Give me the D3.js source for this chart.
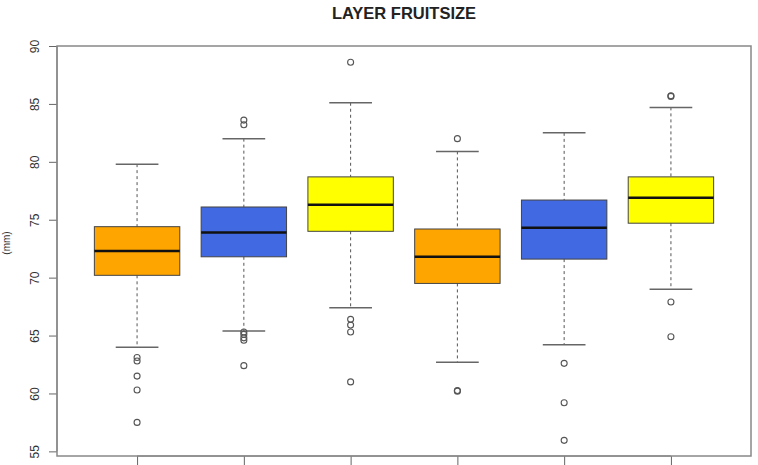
<!DOCTYPE html>
<html lang="en">
<head>
    <meta charset="UTF-8">
    <script src="https://d3js.org/d3.v7.min.js"></script>
    <title>Layer Fruitsize</title>
    <style>
        body { margin: 0; background: #fff; }
        svg { display: block; font-family: "Liberation Sans", Arial, sans-serif; }
    </style>
</head>
<body>
    <div id="chart"></div>
    <script>
        // boxplot stats (mm)
        const groups = [1, 2, 3, 4, 5, 6];
        const whiskerLow  = [64.0, 65.4, 67.4, 62.7, 64.2, 69.0];
        const q1          = [70.2, 71.8, 74.0, 69.5, 71.6, 74.7];
        const median      = [72.3, 73.9, 76.3, 71.8, 74.3, 76.9];
        const q3          = [74.4, 76.1, 78.7, 74.2, 76.7, 78.7];
        const whiskerHigh = [79.8, 82.0, 85.1, 80.9, 82.5, 84.7];
        const outliers = [
            [63.1, 62.8, 61.5, 60.3, 57.5],
            [83.6, 83.2, 65.3, 65.1, 64.8, 64.6, 62.4],
            [88.6, 66.4, 65.9, 65.3, 61.0],
            [82.0, 60.2, 60.25],
            [62.6, 59.2, 55.95],
            [85.65, 85.7, 67.9, 64.9]
        ];
        const yTicks = [55, 60, 65, 70, 75, 80, 85, 90];
        const fills = ['#FFA500', '#4169E1', '#FFFF00', '#FFA500', '#4169E1', '#FFFF00'];

        const w = 758, h = 465;
        const padL = 57, padR = 751, padT = 46, padB = 456;

        const svg = d3.select('#chart').append('svg')
            .attr('width', w)
            .attr('height', h);

        const x = d3.scaleLinear().domain([0.25, 6.75]).range([padL, padR]);
        const y = d3.scaleLinear().domain([54.6, 90]).range([padB, padT]);
        const unit = x(1) - x(0);
        const boxW = 0.8 * unit;
        const capW = 0.4 * unit;

        const data = groups.map((g, i) => ({
            g: g, lo: whiskerLow[i], q1: q1[i], med: median[i], q3: q3[i],
            hi: whiskerHigh[i], out: outliers[i], fill: fills[i]
        }));

        const box = svg.selectAll('g.box')
            .data(data)
            .enter().append('g')
            .attr('class', 'box');

        // dashed whiskers
        box.append('line')
            .attr('x1', d => x(d.g)).attr('x2', d => x(d.g))
            .attr('y1', d => y(d.hi)).attr('y2', d => y(d.q3))
            .attr('stroke', '#555').attr('stroke-dasharray', '3,3');
        box.append('line')
            .attr('x1', d => x(d.g)).attr('x2', d => x(d.g))
            .attr('y1', d => y(d.q1)).attr('y2', d => y(d.lo))
            .attr('stroke', '#555').attr('stroke-dasharray', '3,3');

        // caps
        box.append('line')
            .attr('x1', d => x(d.g) - capW / 2).attr('x2', d => x(d.g) + capW / 2)
            .attr('y1', d => y(d.hi)).attr('y2', d => y(d.hi))
            .attr('stroke', '#666').attr('stroke-width', 1.5);
        box.append('line')
            .attr('x1', d => x(d.g) - capW / 2).attr('x2', d => x(d.g) + capW / 2)
            .attr('y1', d => y(d.lo)).attr('y2', d => y(d.lo))
            .attr('stroke', '#666').attr('stroke-width', 1.5);

        // boxes
        box.append('rect')
            .attr('x', d => x(d.g) - boxW / 2)
            .attr('width', boxW)
            .attr('y', d => y(d.q3))
            .attr('height', d => y(d.q1) - y(d.q3))
            .attr('fill', d => d.fill)
            .attr('stroke', '#444')
            .attr('stroke-width', 1);

        // medians
        box.append('line')
            .attr('x1', d => x(d.g) - boxW / 2).attr('x2', d => x(d.g) + boxW / 2)
            .attr('y1', d => y(d.med)).attr('y2', d => y(d.med))
            .attr('stroke', '#111').attr('stroke-width', 2.5);

        // outliers
        box.selectAll('circle')
            .data(d => d.out.map(v => ({ g: d.g, v: v })))
            .enter().append('circle')
            .attr('cx', d => x(d.g))
            .attr('cy', d => y(d.v))
            .attr('r', 3)
            .attr('fill', 'none')
            .attr('stroke', '#555')
            .attr('stroke-width', 1.1);

        // axes
        const yAxis = d3.axisLeft(y).tickValues(yTicks).tickSize(8).tickPadding(0);
        const gy = svg.append('g')
            .attr('transform', 'translate(' + padL + ',0)')
            .call(yAxis);
        gy.select('.domain').attr('d', 'M0,' + y(55) + 'V' + y(90)).attr('stroke', '#666');
        gy.selectAll('.tick line').attr('stroke', '#666');
        gy.selectAll('.tick text')
            .attr('x', 0).attr('dy', null)
            .attr('text-anchor', 'middle')
            .attr('transform', 'translate(-22,0) rotate(-90)')
            .attr('dominant-baseline', 'central')
            .style('font-size', '12px')
            .attr('fill', '#333');

        const xAxis = d3.axisBottom(x).tickValues(groups).tickSize(10).tickFormat('');
        const gx = svg.append('g')
            .attr('transform', 'translate(0,' + padB + ')')
            .call(xAxis);
        gx.select('.domain').attr('d', 'M' + x(1) + ',0H' + x(6)).attr('stroke', '#666');
        gx.selectAll('.tick line').attr('stroke', '#666');

        // frame
        svg.append('rect')
            .attr('x', padL).attr('y', padT)
            .attr('width', padR - padL).attr('height', padB - padT)
            .attr('fill', 'none')
            .attr('stroke', '#888')
            .attr('stroke-width', 1.5);

        // title and y label
        svg.append('text')
            .text('LAYER FRUITSIZE')
            .attr('x', (padL + padR) / 2)
            .attr('y', 19)
            .attr('text-anchor', 'middle')
            .style('font-size', '16.5px')
            .style('font-weight', 'bold')
            .attr('fill', '#222');

        svg.append('text')
            .text('(mm)')
            .attr('transform', 'translate(6,243) rotate(-90)')
            .attr('text-anchor', 'middle')
            .attr('dominant-baseline', 'central')
            .style('font-size', '10px')
            .attr('fill', '#333');
    </script>
</body>
</html>
